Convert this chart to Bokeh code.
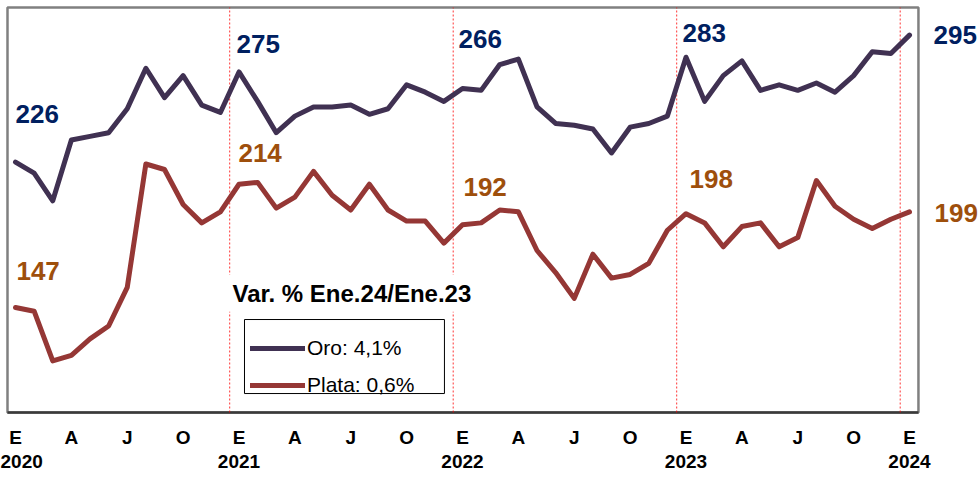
from bokeh.plotting import figure
from bokeh.models import (Range1d, FixedTicker, LinearAxis, Label,
                          Legend, LegendItem, BoxAnnotation)
from bokeh.embed import file_html
from bokeh.resources import INLINE

# ---------------- data ----------------
months = list(range(49))  # Jan 2020 .. Jan 2024
oro = [226, 220, 205, 238, 240, 242, 255, 277, 261, 273, 257, 253,
       275, 259, 242, 251, 256, 256, 257, 252, 255, 268, 264, 259,
       266, 265, 279, 282, 256, 247, 246, 244, 231, 245, 247, 251,
       283, 259, 273, 281, 265, 268, 265, 269, 264, 273, 286, 285,
       295]
plata = [147, 145, 118, 121, 130, 137, 158, 225, 222, 203, 193, 199,
         214, 215, 201, 207, 221, 208, 200, 214, 200, 194, 194, 182,
         192, 193, 200, 199, 178, 166, 152, 176, 163, 165, 171, 189,
         198, 193, 180, 191, 193, 180, 185, 216, 202, 195, 190, 195,
         199]
tick_letters = ["E", "A", "J", "O"]
years = ["2020", "2021", "2022", "2023", "2024"]
legend_labels = ["Oro: 4,1%", "Plata: 0,6%"]
legend_title = "Var. % Ene.24/Ene.23"

# ---------------- style / layout ----------------
ORO_LINE = "#403152"
PLATA_LINE = "#953735"
ORO_TXT = "#002060"
PLATA_TXT = "#9E4F0C"
FONT = "Liberation Sans"

X0, X1 = -0.43, 48.48      # visible chart box (months)
Y0, Y1 = 90, 310           # visible chart box (values)

p = figure(width=979, height=477,
           x_range=Range1d(-0.537, 51.758), y_range=Range1d(88.91, 311.09),
           output_backend="svg", toolbar_location=None,
           x_axis_location=None, y_axis_location=None,
           min_border_left=5, min_border_right=0,
           min_border_top=5, min_border_bottom=63)
p.xgrid.visible = False
p.ygrid.visible = False
p.background_fill_color = "white"
p.border_fill_color = "white"
p.outline_line_color = None

# x axis with month letters
tick_pos = list(range(0, 49, 3))
ax1 = LinearAxis(ticker=FixedTicker(ticks=tick_pos),
                 major_label_overrides={t: tick_letters[(t // 3) % 4] for t in tick_pos},
                 axis_line_color=None, axis_line_alpha=0,
                 major_tick_line_color=None, minor_tick_line_color=None,
                 major_label_text_font=FONT, major_label_text_font_style="bold",
                 major_label_text_font_size="19px", major_label_text_color="black",
                 major_label_standoff=6)
year_pos = list(range(0, 49, 12))
ax2 = LinearAxis(ticker=FixedTicker(ticks=year_pos),
                 major_label_overrides={t: years[i] for i, t in enumerate(year_pos)},
                 axis_line_color=None, axis_line_alpha=0,
                 major_tick_line_color=None, minor_tick_line_color=None,
                 major_label_text_font=FONT, major_label_text_font_style="bold",
                 major_label_text_font_size="19px", major_label_text_color="black",
                 major_label_standoff=-2)
p.add_layout(ax1, "below")
p.add_layout(ax2, "below")

# chart box: grey frame, dark bottom edge
p.quad(left=[X0], right=[X1], bottom=[Y0], top=[Y1], fill_color=None,
       line_color="#808080", line_width=2.5)
p.line(x=[X0, X1], y=[Y0, Y0], line_color="#3a3a3a", line_width=2.5)

# year separators (between December and January)
seps = [12 * k - 0.5 for k in range(1, 5)]
p.segment(x0=seps, y0=[Y0] * 4, x1=seps, y1=[Y1] * 4,
          line_color="#ff0000", line_width=1, line_dash="2 2", line_alpha=0.8)

r_oro = p.line(months, oro, line_color=ORO_LINE, line_width=5,
               line_join="round", line_cap="round")
r_plata = p.line(months, plata, line_color=PLATA_LINE, line_width=5,
                 line_join="round", line_cap="round")

# value labels at each January
jan_idx = list(range(0, 49, 12))
oro_dx = [0.0, -0.13, -0.21, -0.19, 1.29]
oro_dy = [26.4, 15.4, 27.1, 13.4, -0.2]
plata_dx = [0.05, -0.03, 0.05, 0.19, 1.34]
plata_dy = [19.6, 17.2, 20.7, 19.1, -0.4]
for j, i in enumerate(jan_idx):
    p.add_layout(Label(x=i + oro_dx[j], y=oro[i] + oro_dy[j], text=str(oro[i]),
                       text_font=FONT, text_font_style="bold", text_font_size="26px",
                       text_color=ORO_TXT, text_align="left",
                       text_baseline="alphabetic"))
    p.add_layout(Label(x=i + plata_dx[j], y=plata[i] + plata_dy[j], text=str(plata[i]),
                       text_font=FONT, text_font_style="bold", text_font_size="26px",
                       text_color=PLATA_TXT, text_align="left",
                       text_baseline="alphabetic"))

# legend title with white background
p.add_layout(Label(x=11.38, y=154.8, text=legend_title, text_font=FONT,
                   text_font_style="bold", text_font_size="24px",
                   text_color="black", text_align="left", text_baseline="alphabetic",
                   background_fill_color="white", padding=5))

# legend box
p.add_layout(BoxAnnotation(left=12.295, right=23.03, top=140.5, bottom=100.3,
                           fill_color=None, line_color="black", line_width=1,
                           line_alpha=1.0))
legend = Legend(items=[LegendItem(label=legend_labels[0], renderers=[r_oro]),
                       LegendItem(label=legend_labels[1], renderers=[r_plata])],
                location=(245, 14), padding=10, spacing=7, margin=0,
                glyph_width=55, glyph_height=30, label_height=30,
                label_standoff=2, label_text_font=FONT,
                label_text_font_size="21px", label_text_color="black",
                border_line_color=None, background_fill_alpha=0)
p.add_layout(legend)

open("out.html", "w").write(file_html(p, INLINE))
